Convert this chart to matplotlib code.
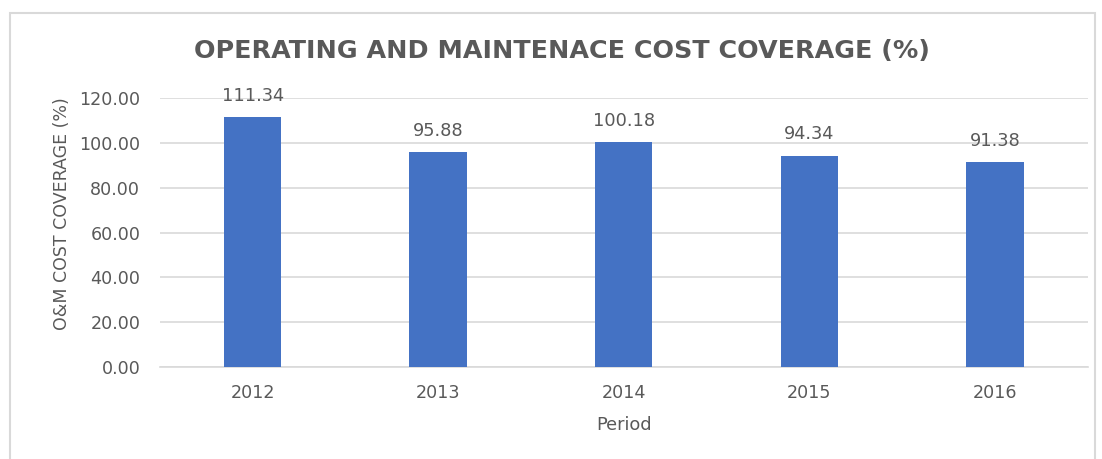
import matplotlib.pyplot as plt
from matplotlib.patches import Rectangle

years = ['2012', '2013', '2014', '2015', '2016']
coverage = [111.34, 95.88, 100.18, 94.34, 91.38]

plt.rcParams['font.family'] = ['DejaVu Sans']
text_col = '#595959'

fig = plt.figure(figsize=(11.02, 4.59), dpi=100)
ax = fig.add_axes([0.145, 0.2004, 0.842, 0.5861])

bars = ax.bar(years, coverage, width=0.31, color='#4472C4', zorder=3)
for b, v in zip(bars, coverage):
    ax.annotate(f'{v:.2f}', (b.get_x() + b.get_width() / 2, v), xytext=(0, 15.5),
                textcoords='offset points', ha='center', va='center',
                fontsize=12.8, color=text_col)

ax.set_ylim(0, 120)
ax.set_xlim(-0.5, 4.5)
ax.set_yticks(range(0, 121, 20))
ax.set_yticklabels([f'{t:.2f}' for t in range(0, 121, 20)])
ax.yaxis.grid(True, color='#D9D9D9', linewidth=1.2, zorder=0)
ax.tick_params(length=0, labelsize=12.6, colors=text_col)
ax.tick_params(axis='y', pad=14)
ax.tick_params(axis='x', pad=12)
for s in ['top', 'right', 'left']:
    ax.spines[s].set_visible(False)
ax.spines['bottom'].set_color('#D9D9D9')
ax.spines['bottom'].set_linewidth(1.2)

ax.set_xlabel('Period', fontsize=12.8, color=text_col, labelpad=10)
ax.set_ylabel('O&M COST COVERAGE (%)', fontsize=12.5, color=text_col)
ax.yaxis.set_label_coords(-0.0955, 0.569)
fig.text(0.51, 0.888, 'OPERATING AND MAINTENACE COST COVERAGE (%)', ha='center', va='center',
         fontsize=18.3, fontweight='bold', color=text_col)

# chart frame
fig.patches.append(Rectangle((10 / 1102, -0.05), 1085 / 1102, 1 - 13 / 459 + 0.05,
                             transform=fig.transFigure, fill=False,
                             edgecolor='#D9D9D9', linewidth=1.5))

fig.savefig('out.png', dpi=100)
